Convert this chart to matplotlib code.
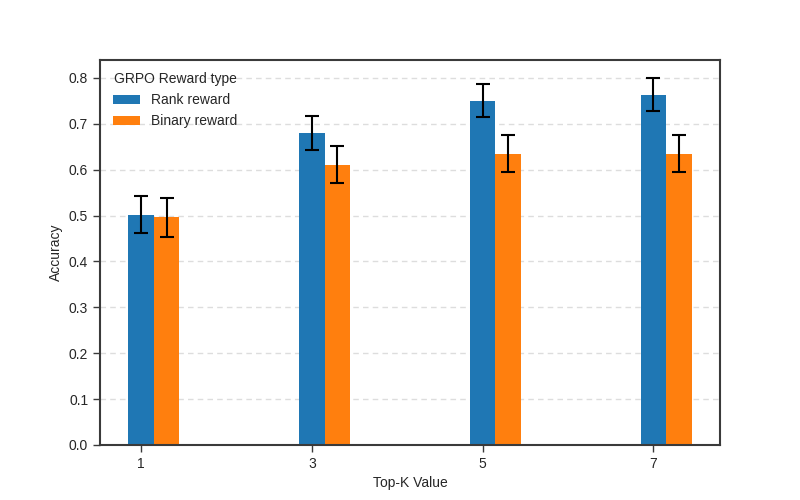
import numpy as np
import matplotlib
matplotlib.use("Agg")
import matplotlib.pyplot as plt

# ── data ─────────────────────────────────────
top_k = ["1", "3", "5", "7"]
rank_acc = [0.502, 0.680, 0.750, 0.763]
rank_err = [0.041, 0.038, 0.036, 0.036]
binary_acc = [0.496, 0.611, 0.635, 0.635]
binary_err = [0.042, 0.040, 0.040, 0.040]

# ── style: dark grey frame, outward ticks ────
plt.rcParams.update({
    "font.family": ["Liberation Sans", "DejaVu Sans"],
    "axes.edgecolor": "#3a3a3a",
    "axes.linewidth": 1.5,
    "axes.labelcolor": "#262626",
    "text.color": "#262626",
    "xtick.color": "#3a3a3a",
    "ytick.color": "#3a3a3a",
    "xtick.labelcolor": "#262626",
    "ytick.labelcolor": "#262626",
    "xtick.major.size": 5,
    "ytick.major.size": 5,
    "xtick.major.width": 1.0,
    "ytick.major.width": 1.0,
})

fig, ax = plt.subplots(figsize=(8, 5), dpi=100)

x = np.arange(len(top_k))
width = 0.15
err_style = dict(ecolor="black", elinewidth=1.5, capthick=1.5)

ax.bar(x, rank_acc, width, yerr=rank_err, capsize=5, color="#1f77b4",
       linewidth=0, label="Rank reward", error_kw=err_style)
ax.bar(x + width, binary_acc, width, yerr=binary_err, capsize=5, color="#ff7f0e",
       linewidth=0, label="Binary reward", error_kw=err_style)

ax.set_xticks(x)
ax.set_xticklabels(top_k)
ax.set_xlabel("Top-K Value")
ax.set_ylabel("Accuracy")
ax.yaxis.grid(True, linestyle=(0, (4, 3)), color="#dddddd", linewidth=1.0)
ax.set_axisbelow(True)
ax.legend(title="GRPO Reward type", loc="upper left", frameon=False)

plt.savefig("out.png")
plt.close(fig)
